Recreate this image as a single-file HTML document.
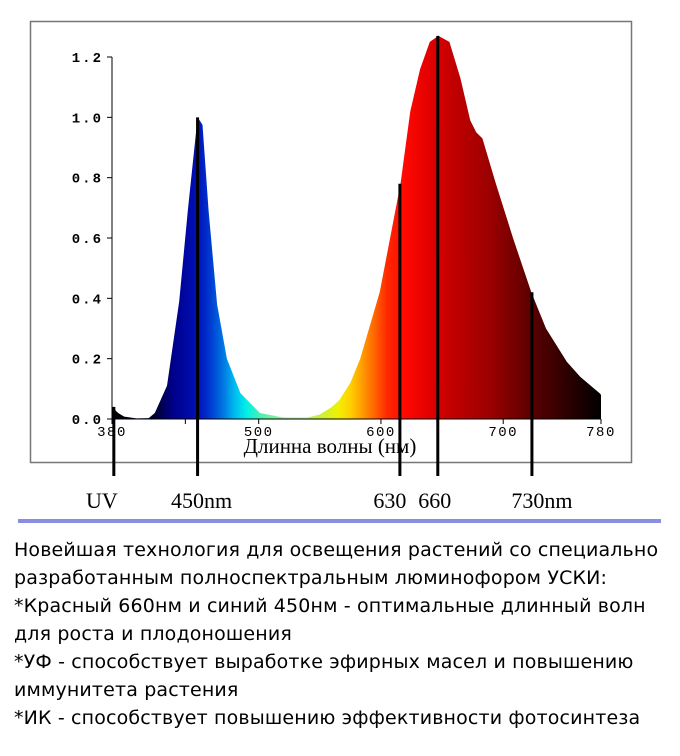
<!DOCTYPE html>
<html><head><meta charset="utf-8"><style>
body{margin:0;width:680px;height:756px;background:#fff;overflow:hidden;position:relative}
#txt{position:absolute;left:14px;top:536px;width:680px;font:19px "DejaVu Sans","Liberation Sans",sans-serif;line-height:28px;color:#000;letter-spacing:0.15px;white-space:nowrap}
</style></head><body>
<svg id="chart" width="680" height="530" style="position:absolute;left:0;top:0">
<defs><linearGradient id="spec" gradientUnits="userSpaceOnUse" x1="112" x2="601" y1="0" y2="0"></linearGradient></defs>
<rect x="30.5" y="21.5" width="601" height="441" fill="#fff" stroke="#777" stroke-width="1.5"/>
<g id="g"></g>
</svg>
<div id="txt">Новейшая технология для освещения растений со специально<br>разработанным полноспектральным люминофором УСКИ:<br>*Красный 660нм и синий 450нм - оптимальные длинный волн<br>для роста и плодоношения<br>*УФ - способствует выработке эфирных масел и повышению<br>иммунитета растения<br>*ИК - способствует повышению эффективности фотосинтеза</div>
<div style="position:absolute;left:18px;top:519px;width:643px;height:4px;background:#8a8ee0"></div>
<script>
const wavelengths=[380,385,390,400,410,415,425,435,442,450,454,459,466,474,485,501,520,540,550,560,566,575,583,599,616,624,632,640,647,656,665,673,678,683,694,708,723,735,752,763,779,780];
const intensity=[0.04,0.02,0.008,0.002,0.003,0.02,0.11,0.39,0.69,1.0,0.975,0.69,0.38,0.2,0.086,0.02,0.005,0.005,0.015,0.04,0.063,0.12,0.2,0.42,0.78,1.02,1.16,1.25,1.27,1.25,1.13,0.99,0.95,0.93,0.78,0.6,0.42,0.3,0.19,0.14,0.085,0.08];
const yTicks=[0,0.2,0.4,0.6,0.8,1.0,1.2];
const xTicks=[380,500,600,700,780];
const markerWl=[381.5,450,615.5,646.5,723.5];
const markerVal=[0.04,1.0,0.78,1.27,0.42];
const markerLabels=["UV","450nm","630","660","730nm"];
const labelDx=[-12,4,-10,-3,10];
const colorWl=[380,415,430,450,460,470,480,490,505,530,550,565,575,585,595,605,620,640,660,690,720,750,780];
const colorHex=["#000","#000030","#00008a","#0010b8","#0038d0","#0070e0","#00b8f0","#00f0e8","#60f0a0","#b0f0a0","#c8f040","#f0f000","#ffd000","#ff9a00","#ff6400","#ff2800","#ff0800","#e00000","#c00000","#9a0000","#600000","#300000","#000"];
const X=w=>112+(w-380)*(489/400);
const Y=v=>419-v*(362/1.2);
const ns="http://www.w3.org/2000/svg";
const g=document.getElementById('g');
function mk(t,a,p){const e=document.createElementNS(ns,t);for(const k in a)e.setAttribute(k,a[k]);(p||g).appendChild(e);return e;}
const grad=document.getElementById('spec');
colorWl.forEach((w,i)=>{mk('stop',{offset:((w-380)/400).toFixed(4),'stop-color':colorHex[i]},grad);});
let d='M'+X(380)+','+Y(0);
wavelengths.forEach((w,i)=>{d+=' L'+X(w).toFixed(1)+','+Y(intensity[i]).toFixed(1);});
d+=' L'+X(780)+','+Y(0)+' Z';
const area=mk('path',{d:d,fill:'url(#spec)'});


const ax=mk('path',{d:'M'+X(380)+','+Y(1.2)+' V'+Y(0)+' H'+X(780),stroke:'#000','stroke-width':1,fill:'none'});


yTicks.forEach(v=>{
 mk('line',{x1:X(380)-5,x2:X(380),y1:Y(v),y2:Y(v),stroke:'#000'});
 const t=mk('text',{x:X(380)-9,y:Y(v)+5,'text-anchor':'end','font-family':'Liberation Mono,monospace','font-size':14,'font-weight':'bold','letter-spacing':2});
 t.textContent=v.toFixed(1);
 
 
});
xTicks.forEach(v=>{
 mk('line',{x1:X(v),x2:X(v),y1:Y(0),y2:Y(0)+5,stroke:'#000'});
 const t=mk('text',{x:X(v),y:Y(0)+17,'text-anchor':'middle','font-family':'Liberation Mono,monospace','font-size':14,'letter-spacing':1.5});
 t.textContent=v;
 
 
});
mk('line',{x1:X(440),x2:X(440),y1:Y(0),y2:Y(0)+5,stroke:'#000'});
const xt=mk('text',{x:330,y:453,'text-anchor':'middle','font-family':'Liberation Serif,serif','font-size':21});
xt.textContent='Длинна волны (нм)';


markerWl.forEach((w,i)=>{
 const l=mk('line',{x1:X(w),x2:X(w),y1:Y(markerVal[i]),y2:476,stroke:'#000','stroke-width':3});
 
 
 const t=mk('text',{x:X(w)+labelDx[i],y:508,'text-anchor':'middle','font-family':'Liberation Serif,serif','font-size':22});
 t.textContent=markerLabels[i];
 
 
});
</script>
</body></html>
